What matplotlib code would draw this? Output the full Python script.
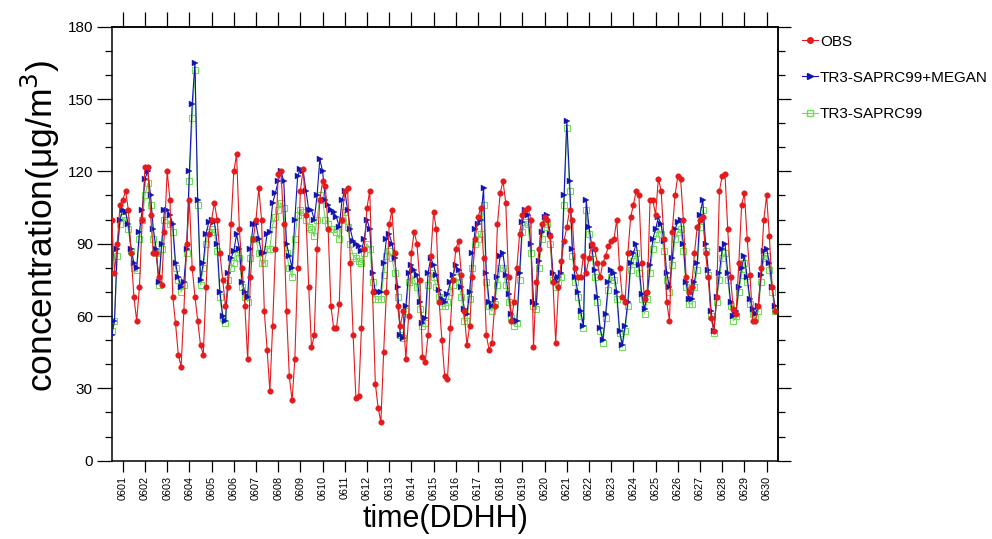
import numpy as np
import matplotlib
matplotlib.use("Agg")
import matplotlib.pyplot as plt
from matplotlib.ticker import MultipleLocator, FixedLocator, NullFormatter
from matplotlib.lines import Line2D

plt.rcParams['font.family'] = ['Liberation Sans', 'DejaVu Sans']

# 3-hourly values (hours 0,3,...,21 of each day), June 1 - June 30
obs = [
    100, 78, 90, 106, 108, 112, 104, 86,   # 01
    68, 58, 72, 100, 122, 122, 102, 86,    # 02
    86, 76, 73, 95, 120, 108, 68, 57,      # 03
    44, 39, 62, 90, 108, 80, 68, 58,       # 04
    48, 44, 72, 94, 100, 107, 100, 86,     # 05
    75, 64, 72, 98, 120, 127, 96, 80,      # 06
    64, 42, 76, 92, 100, 113, 100, 62,     # 07
    46, 29, 56, 88, 119, 120, 98, 62,      # 08
    35, 25, 42, 80, 112, 121, 102, 72,     # 09
    47, 52, 88, 108, 116, 114, 96, 64,     # 10
    55, 55, 65, 100, 112, 113, 82, 52,     # 11
    26, 27, 55, 88, 105, 112, 70, 32,      # 12
    22, 16, 45, 70, 98, 104, 86, 64,       # 13
    56, 62, 42, 60, 86, 95, 90, 75,        # 14
    43, 41, 52, 85, 103, 96, 66, 50,       # 15
    35, 34, 55, 75, 88, 91, 77, 62,        # 16
    48, 56, 76, 92, 101, 105, 84, 52,      # 17
    46, 49, 64, 98, 111, 116, 107, 76,     # 18
    58, 66, 80, 94, 102, 104, 105, 100,    # 19
    47, 74, 88, 98, 101, 100, 93, 74,      # 20
    49, 72, 83, 91, 97, 104, 100, 80,      # 21
    76, 76, 85, 78, 84, 90, 88, 82,        # 22
    76, 82, 85, 89, 91, 92, 100, 80,       # 23
    68, 66, 86, 101, 106, 112, 110, 82,    # 24
    67, 70, 108, 108, 102, 117, 112, 92,   # 25
    66, 58, 95, 110, 118, 117, 100, 76,    # 26
    70, 72, 86, 97, 100, 101, 86, 76,      # 27
    59, 54, 68, 112, 118, 119, 96, 76,     # 28
    63, 61, 82, 106, 111, 92, 77, 58,      # 29
    58, 64, 80, 100, 110, 93, 72, 62,      # 30
]

megan = [
    52, 58, 88, 100, 104, 103, 98, 88,
    82, 80, 95, 104, 117, 120, 110, 96,
    88, 74, 90, 104, 104, 102, 98, 82,
    76, 72, 74, 88, 120, 148, 165, 108,
    75, 82, 94, 99, 100, 99, 90, 70,
    60, 58, 78, 84, 87, 94, 88, 74,
    70, 68, 88, 98, 98, 92, 86, 86,
    94, 95, 107, 111, 116, 120, 116, 90,
    85, 80, 100, 118, 121, 120, 112, 104,
    104, 100, 110, 125, 120, 108, 106, 104,
    103, 101, 97, 108, 112, 104, 96, 91,
    90, 89, 87, 92, 100, 96, 78, 70,
    70, 70, 82, 92, 94, 90, 84, 72,
    52, 51, 64, 78, 81, 79, 77, 66,
    57, 59, 78, 84, 81, 77, 71, 67,
    66, 69, 74, 77, 81, 79, 72, 63,
    61, 70, 86, 96, 98, 100, 113, 78,
    66, 64, 67, 76, 85, 86, 77, 69,
    61, 58, 58, 78, 99, 104, 102, 90,
    66, 65, 83, 95, 101, 102, 94, 78,
    74, 76, 78, 110, 141, 116, 88, 76,
    70, 62, 56, 108, 97, 89, 79, 68,
    55, 50, 61, 74, 79, 78, 70, 54,
    48, 56, 66, 82, 86, 90, 81, 69,
    63, 69, 81, 92, 96, 101, 98, 91,
    78, 72, 84, 96, 99, 100, 90, 74,
    67, 67, 74, 82, 102, 108, 90, 79,
    62, 54, 68, 78, 88, 90, 78, 66,
    60, 62, 72, 80, 85, 76, 67, 63,
    61, 64, 77, 87, 88, 82, 72, 64,
]

saprc = [
    54, 58, 85, 98, 101, 100, 96, 87,
    80, 79, 92, 100, 110, 115, 106, 92,
    86, 73, 88, 100, 100, 98, 95, 80,
    75, 70, 73, 86, 116, 142, 162, 106,
    73, 80, 90, 95, 96, 95, 87, 68,
    59, 57, 75, 80, 82, 88, 84, 72,
    68, 66, 84, 92, 92, 86, 82, 82,
    88, 88, 98, 101, 104, 107, 105, 86,
    80, 76, 92, 102, 104, 103, 100, 97,
    96, 93, 100, 110, 108, 100, 98, 96,
    96, 95, 92, 100, 103, 97, 90, 85,
    84, 83, 82, 86, 90, 88, 74, 67,
    67, 67, 77, 85, 87, 84, 78, 68,
    52, 51, 62, 74, 77, 75, 72, 63,
    56, 57, 73, 78, 76, 72, 68, 64,
    64, 66, 70, 73, 76, 74, 68, 58,
    58, 67, 80, 90, 92, 94, 106, 74,
    64, 62, 65, 73, 80, 80, 73, 66,
    59, 56, 57, 75, 95, 99, 98, 86,
    64, 63, 80, 92, 97, 98, 90, 75,
    72, 74, 76, 106, 138, 112, 85, 74,
    68, 60, 55, 104, 94, 86, 76, 66,
    54, 49, 59, 71, 76, 75, 67, 53,
    47, 54, 64, 79, 83, 86, 78, 67,
    61, 67, 78, 88, 92, 96, 94, 87,
    75, 70, 81, 92, 95, 96, 87, 72,
    65, 65, 72, 79, 97, 104, 87, 77,
    60, 53, 66, 75, 84, 86, 75, 64,
    58, 60, 70, 77, 82, 74, 65, 61,
    59, 62, 74, 84, 85, 79, 70, 62,
]

day_labels = ['06%02d' % d for d in range(1, 31)]
series_names = ['OBS', 'TR3-SAPRC99+MEGAN', 'TR3-SAPRC99']

hours = np.arange(len(obs)) * 3
day_ticks = 12 + 24 * np.arange(len(day_labels))

RED = '#e41a1c'
BLUE = '#1414b4'
GREEN = '#6fdc5a'

fig = plt.figure(figsize=(9.92, 5.39), dpi=100)
ax = fig.add_axes([111.7 / 992, 1 - 460.7 / 539, (777.7 - 111.7) / 992, (460.7 - 26.7) / 539])

l3, = ax.plot(hours, saprc, color=GREEN, lw=0.8, marker='s', ms=3.8, mfc='none',
              mec=GREEN, mew=0.8, zorder=2)
l2, = ax.plot(hours, megan, color=BLUE, lw=0.8, marker='>', ms=4.0, mfc=BLUE,
              mec=BLUE, mew=0.3, zorder=3)
l1, = ax.plot(hours, obs, color=RED, lw=0.8, marker='o', ms=4.0, mfc=RED,
              mec=RED, mew=0.3, zorder=4)

ax.set_xlim(0, 720)
ax.set_ylim(0, 180)

for s in ax.spines.values():
    s.set_linewidth(1.1)

# y axis (left)
ax.yaxis.set_major_locator(MultipleLocator(30))
ax.yaxis.set_minor_locator(MultipleLocator(10))
ax.tick_params(axis='y', which='major', direction='out', length=10.5, width=0.9,
               labelsize=11, pad=3, right=False)
ax.tick_params(axis='y', which='minor', direction='out', length=5, width=0.9, right=False)

# x axis (bottom)
ax.set_xticks(day_ticks)
ax.set_xticklabels(day_labels, rotation=90)
ax.tick_params(axis='x', which='major', direction='out', length=8, width=0.9,
               labelsize=7.8, pad=3, top=False)
ax.xaxis.set_minor_locator(FixedLocator([]))

# top ticks
axt = ax.secondary_xaxis('top')
axt.set_xticks(day_ticks)
axt.xaxis.set_major_formatter(NullFormatter())
axt.tick_params(axis='x', direction='out', length=10.5, width=0.9)
axt.spines['top'].set_linewidth(1.1)

# right ticks
axr = ax.secondary_yaxis('right')
axr.yaxis.set_major_locator(MultipleLocator(30))
axr.yaxis.set_minor_locator(MultipleLocator(10))
axr.yaxis.set_major_formatter(NullFormatter())
axr.yaxis.set_minor_formatter(NullFormatter())
axr.tick_params(axis='y', which='major', direction='out', length=9, width=0.9)
axr.tick_params(axis='y', which='minor', direction='out', length=5, width=0.9)
axr.spines['right'].set_linewidth(1.1)

fig.text(40 / 992, 1 - 226 / 539, 'concentration(μg/m$^3$)', rotation=90,
         fontsize=25.5, ha='center', va='center')
fig.text(445 / 992, 1 - 519 / 539, 'time(DDHH)', fontsize=22, ha='center', va='center')

h1 = Line2D([], [], color=RED, lw=0.8, marker='o', ms=4.0, mfc=RED, mec=RED)
h2 = Line2D([], [], color=BLUE, lw=0.8, marker='>', ms=4.0, mfc=BLUE, mec=BLUE)
h3 = Line2D([], [], color=GREEN, lw=0.8, marker='s', ms=3.8, mfc='none', mec=GREEN)
fig.legend([h1, h2, h3], series_names, loc='upper left',
           bbox_to_anchor=(797 / 992, 1 - 30 / 539), frameon=False,
           fontsize=11, handlelength=1.1, handletextpad=0.1, labelspacing=1.45,
           borderaxespad=0, borderpad=0.3)

fig.savefig('out.png', dpi=100)
